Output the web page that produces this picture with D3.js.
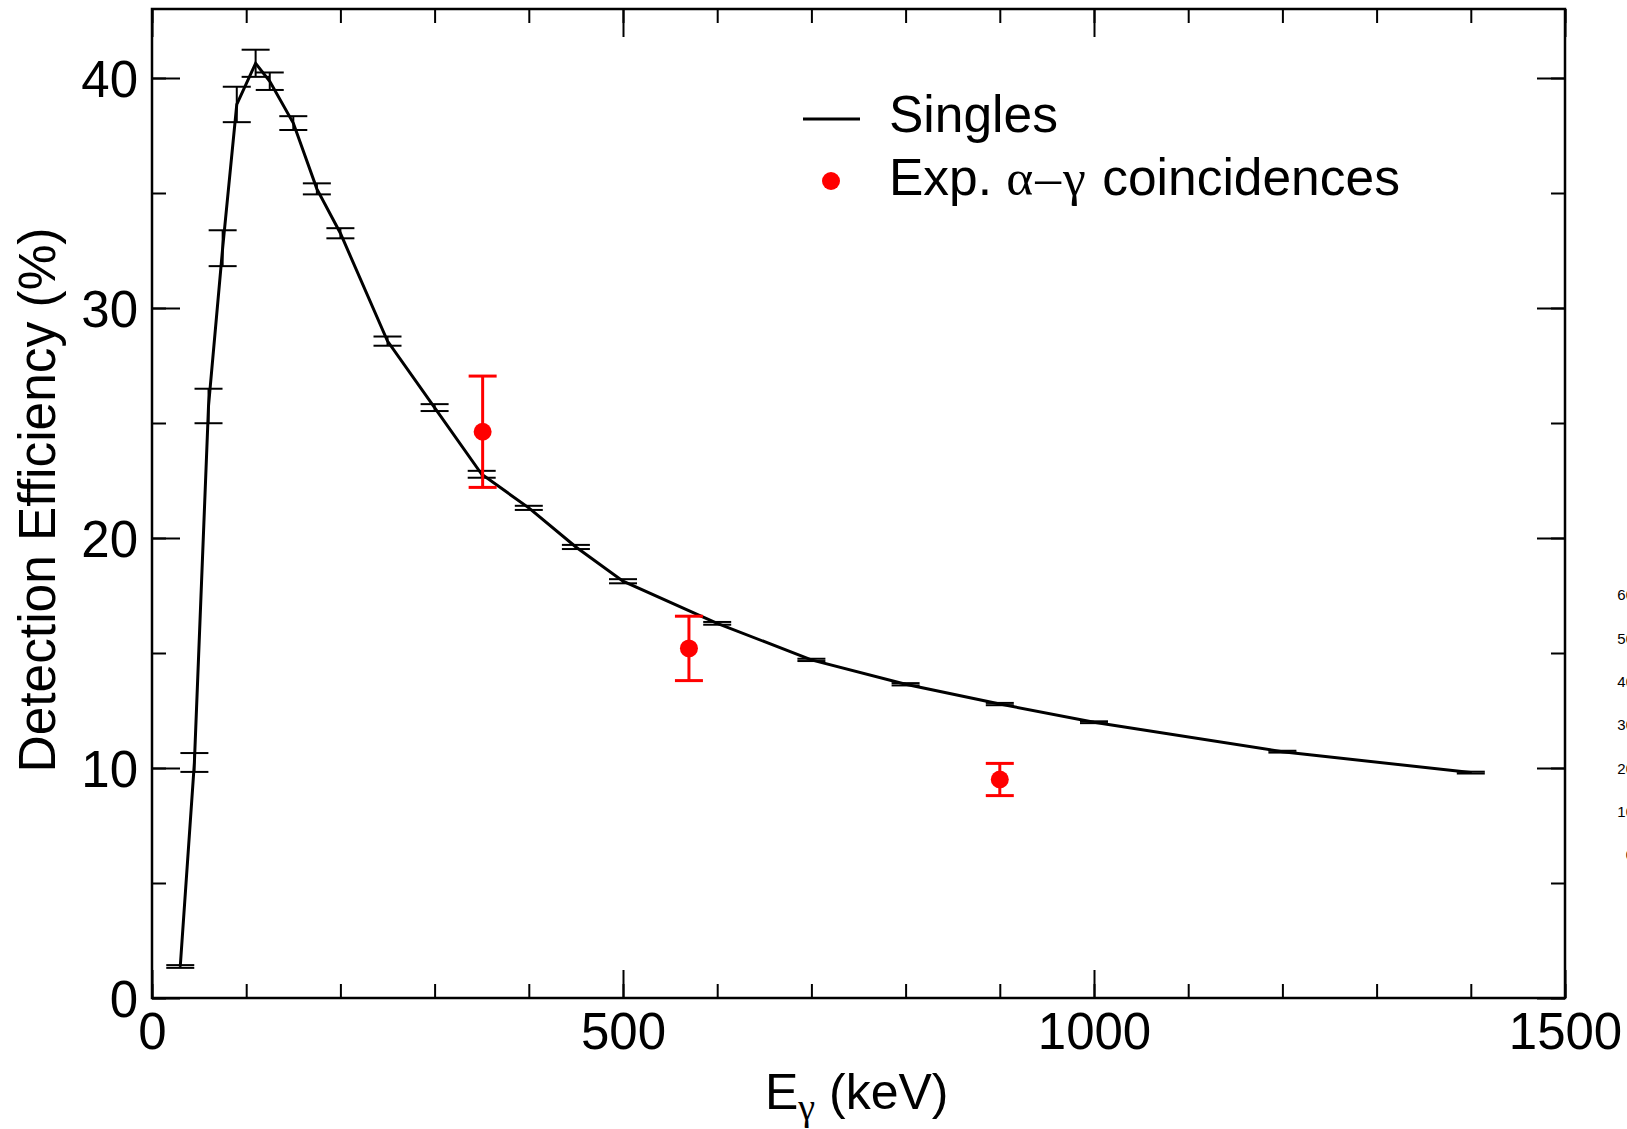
<!DOCTYPE html>
<html>
<head>
<meta charset="utf-8">
<script src="https://cdn.jsdelivr.net/npm/d3@7"></script>
<style>
  body { margin: 0; background: #fff; }
  text { font-family: "Liberation Sans", Arial, sans-serif; }
</style>
</head>
<body>
<svg id="chart" width="1627" height="1129"></svg>
<script>
// simulated singles efficiency (keV, %)
var singlesE   = [30, 45, 60, 75, 90, 110, 125, 150, 175, 200, 250, 300, 350, 400, 450, 500, 600, 700, 800, 900, 1000, 1200, 1400];
var singlesEff = [1.37, 10.24, 25.74, 32.6, 38.85, 40.64, 39.86, 38.04, 35.18, 33.25, 28.56, 25.67, 22.77, 21.31, 19.61, 18.12, 16.29, 14.70, 13.64, 12.78, 11.99, 10.71, 9.80];
var singlesErr = [0.06, 0.41, 0.75, 0.78, 0.77, 0.59, 0.38, 0.3, 0.24, 0.22, 0.2, 0.15, 0.15, 0.09, 0.09, 0.09, 0.06, 0.05, 0.05, 0.05, 0.04, 0.04, 0.04];

// measured alpha-gamma coincidences
var coincE   = [351, 570, 900];
var coincEff = [24.62, 15.2, 9.5];
var coincErr = [2.42, 1.4, 0.7];

var xTicks = [0, 500, 1000, 1500];
var yTicks = [0, 10, 20, 30, 40];
var strayTicks = [0, 10, 20, 30, 40, 50, 60]; // clipped labels at right edge

var svg = d3.select("#chart");
// note: "top" clashes with window.top, so use plot* names
var plotL = 152, plotR = 1565, plotT = 9, plotB = 998;

var x = d3.scaleLinear().domain([0, 1500]).range([plotL, plotR]);
var y = d3.scaleLinear().domain([0, 43]).range([plotB, plotT]);

function styleAxis(g, labels) {
  g.select(".domain").remove();
  g.selectAll(".tick line").attr("stroke", "#000").attr("stroke-width", 2);
  if (labels) {
    g.selectAll(".tick text")
      .attr("font-family", '"Liberation Sans", Arial, sans-serif')
      .attr("font-size", 51)
      .attr("fill", "#000");
  } else {
    g.selectAll(".tick text").remove();
  }
}

// minor ticks all round
var xMinor = x.ticks(15), yMinor = d3.range(0, 43, 5);
svg.append("g").attr("transform", "translate(0," + plotB + ")")
  .call(d3.axisBottom(x).tickValues(xMinor).tickSize(-14)).call(styleAxis, false);
svg.append("g").attr("transform", "translate(0," + plotT + ")")
  .call(d3.axisTop(x).tickValues(xMinor).tickSize(-14)).call(styleAxis, false);
svg.append("g").attr("transform", "translate(" + plotL + ",0)")
  .call(d3.axisLeft(y).tickValues(yMinor).tickSize(-14)).call(styleAxis, false);
svg.append("g").attr("transform", "translate(" + plotR + ",0)")
  .call(d3.axisRight(y).tickValues(yMinor).tickSize(-14)).call(styleAxis, false);

// major ticks
svg.append("g").attr("transform", "translate(0," + plotB + ")")
  .call(d3.axisBottom(x).tickValues(xTicks).tickSize(-28).tickPadding(15).tickFormat(d3.format("d")))
  .call(styleAxis, true);
svg.append("g").attr("transform", "translate(0," + plotT + ")")
  .call(d3.axisTop(x).tickValues(xTicks).tickSize(-28)).call(styleAxis, false);
svg.append("g").attr("transform", "translate(" + plotL + ",0)")
  .call(d3.axisLeft(y).tickValues(yTicks).tickSize(-28).tickPadding(14).tickFormat(d3.format("d")))
  .call(styleAxis, true)
  .selectAll(".tick text").attr("dy", "0.36em");
svg.append("g").attr("transform", "translate(" + plotR + ",0)")
  .call(d3.axisRight(y).tickValues(yTicks).tickSize(-28)).call(styleAxis, false);

// frame
svg.append("rect")
  .attr("x", plotL).attr("y", plotT)
  .attr("width", plotR - plotL).attr("height", plotB - plotT)
  .attr("fill", "none").attr("stroke", "#000").attr("stroke-width", 2.5);

// singles error bars
var singles = singlesE.map(function(e, i) { return { e: e, v: singlesEff[i], err: singlesErr[i] }; });
var sb = svg.append("g").attr("stroke", "#000").attr("stroke-width", 2);
singles.forEach(function(d) {
  sb.append("line").attr("x1", x(d.e)).attr("x2", x(d.e))
    .attr("y1", y(d.v - d.err)).attr("y2", y(d.v + d.err));
  [d.v - d.err, d.v + d.err].forEach(function(v) {
    sb.append("line").attr("x1", x(d.e) - 14).attr("x2", x(d.e) + 14)
      .attr("y1", y(v)).attr("y2", y(v));
  });
});

// singles line
svg.append("path")
  .datum(singles)
  .attr("fill", "none").attr("stroke", "#000").attr("stroke-width", 3)
  .attr("stroke-linejoin", "miter")
  .attr("d", d3.line().x(function(d) { return x(d.e); }).y(function(d) { return y(d.v); }));

// coincidences
var coinc = coincE.map(function(e, i) { return { e: e, v: coincEff[i], err: coincErr[i] }; });
var cb = svg.append("g").attr("stroke", "#ff0000").attr("stroke-width", 3);
coinc.forEach(function(d) {
  cb.append("line").attr("x1", x(d.e)).attr("x2", x(d.e))
    .attr("y1", y(d.v - d.err)).attr("y2", y(d.v + d.err));
  [d.v - d.err, d.v + d.err].forEach(function(v) {
    cb.append("line").attr("x1", x(d.e) - 14).attr("x2", x(d.e) + 14)
      .attr("y1", y(v)).attr("y2", y(v));
  });
});
svg.append("g").selectAll("circle").data(coinc).enter().append("circle")
  .attr("cx", function(d) { return x(d.e); })
  .attr("cy", function(d) { return y(d.v); })
  .attr("r", 9).attr("fill", "#ff0000");

// legend
svg.append("line").attr("x1", 803).attr("x2", 860).attr("y1", 119).attr("y2", 119)
  .attr("stroke", "#000").attr("stroke-width", 3);
svg.append("text").attr("x", 889).attr("y", 132).attr("font-size", 51.5).text("Singles");
svg.append("circle").attr("cx", 831).attr("cy", 181).attr("r", 9).attr("fill", "#ff0000");
var lt = svg.append("text").attr("x", 889).attr("y", 195).attr("font-size", 51.5);
lt.append("tspan").text("Exp. ");
lt.append("tspan").attr("font-family", '"Liberation Serif", serif')
  .attr("letter-spacing", 2).text("α–γ");
lt.append("tspan").attr("letter-spacing", 0).text(" coincidences");

// axis titles
svg.append("text")
  .attr("transform", "translate(55,500) rotate(-90)")
  .attr("text-anchor", "middle").attr("font-size", 51)
  .attr("textLength", 545).attr("lengthAdjust", "spacingAndGlyphs")
  .text("Detection Efficiency (%)");

var xt = svg.append("text").attr("x", 765).attr("y", 1109).attr("font-size", 50);
xt.append("tspan").text("E");
xt.append("tspan").attr("font-family", '"Liberation Serif", serif').attr("font-size", 38)
  .attr("dy", 11).text("γ");
xt.append("tspan").attr("x", 829).attr("dy", -11).text("(keV)");

// stray clipped labels at right edge
var yStray = d3.scaleLinear().domain([0, 60]).range([855, 595]);
svg.append("g").selectAll("text").data(strayTicks).enter().append("text")
  .attr("x", 1634).attr("y", function(d) { return yStray(d); })
  .attr("dy", "0.36em").attr("text-anchor", "end").attr("font-size", 15)
  .text(function(d) { return d; });
</script>
</body>
</html>
